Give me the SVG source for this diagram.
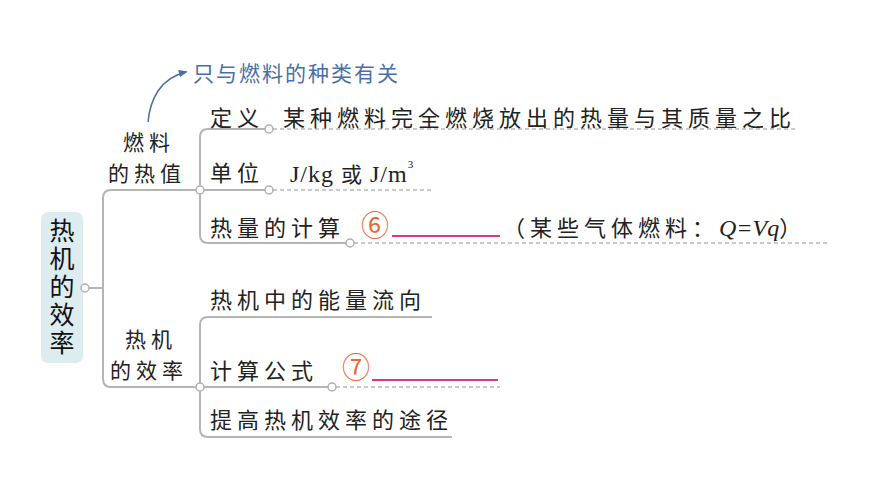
<svg xmlns="http://www.w3.org/2000/svg" width="870" height="489" viewBox="0 0 870 489">
<defs>
<style>
.ln{fill:none;stroke:#b5b5b5;stroke-width:2}
.ds{fill:none;stroke:#b8b8b8;stroke-width:1.5;stroke-dasharray:4 3}
.dot{fill:#fff;stroke:#b0b0b0;stroke-width:1.5}
.t{font-family:"Noto Sans CJK SC",sans-serif;font-size:22px;fill:#222;letter-spacing:5px}
.b{font-family:"Noto Sans CJK SC",sans-serif;font-size:21px;fill:#222;letter-spacing:5px}
.r{font-family:"Noto Sans CJK SC",sans-serif;font-size:25px;fill:#111;writing-mode:vertical-rl;letter-spacing:3px}
.s{font-family:"Liberation Serif","Noto Sans CJK SC",serif;font-size:24px;fill:#222;letter-spacing:1px}
.num{font-family:"Noto Sans CJK SC",sans-serif;font-size:28px;fill:#e8683a}
.pk{stroke:#d63a7a;stroke-width:2}
.an{font-family:"Noto Sans CJK SC",sans-serif;font-size:21px;fill:#4a6fa8;letter-spacing:2px}
</style>
<marker id="ah" viewBox="0 0 10 10" refX="8" refY="5" markerWidth="6" markerHeight="6" orient="auto"><path d="M0,1 L10,5 L0,9 z" fill="#4a6fa8"/></marker>
</defs>
<g id="connectors">
<path class="ln" d="M89,288 H103"/>
<path class="ln" d="M200,190 H111 Q103,190 103,198 V379 Q103,387 111,387 H200"/>
<path class="ln" d="M267,129 H208 Q200,129 200,137 V235 Q200,243 208,243 H346"/>
<path class="ln" d="M200,190 H265"/>
<path class="ln" d="M432,317 H208 Q200,317 200,325 V429 Q200,437 208,437 H452"/>
<path class="ln" d="M200,387 H328"/>
<path class="ds" d="M273,129 H798"/>
<path class="ds" d="M273,190 H432"/>
<path class="ds" d="M354,243 H828"/>
<path class="ds" d="M336,387 H500"/>
<path d="M148,122 C150,100 160,78 186,72" fill="none" stroke="#4a6fa8" stroke-width="1.5" marker-end="url(#ah)"/>
</g>
<g id="root">
<rect x="41" y="212" width="42" height="151" rx="7" fill="#dcecef"/>
<text class="r" x="62" y="218">热机的效率</text>
<circle class="dot" cx="85" cy="288" r="4"/>
</g>
<g id="branch-fuel">
<text class="b" x="123" y="150">燃料</text>
<text class="b" x="108" y="181">的热值</text>
<circle class="dot" cx="200" cy="190" r="4"/>
</g>
<g id="note">
<text class="an" x="193" y="81">只与燃料的种类有关</text>
</g>
<g id="def">
<text class="t" x="210" y="126">定义</text>
<text class="t" x="283" y="126">某种燃料完全燃烧放出的热量与其质量之比</text>
<circle class="dot" cx="269" cy="129" r="4"/>
</g>
<g id="unit">
<text class="t" x="210" y="181">单位</text>
<text class="s" x="290" y="182">J/kg <tspan font-family="Noto Sans CJK SC" font-size="21">或</tspan> J/m<tspan font-size="11" dy="-14">3</tspan></text>
<circle class="dot" cx="269" cy="190" r="4"/>
</g>
<g id="calc">
<text class="t" x="210" y="236">热量的计算</text>
<text class="num" x="361" y="236">⑥</text>
<line class="pk" x1="392" y1="236" x2="500" y2="236"/>
<text class="t" x="503" y="236">（某些气体燃料：<tspan font-family="Liberation Serif" font-style="italic" font-size="24" letter-spacing="0">Q=Vq</tspan>）</text>
<circle class="dot" cx="350" cy="243" r="4"/>
</g>
<g id="branch-engine">
<text class="b" x="125" y="347">热机</text>
<text class="b" x="110" y="378">的效率</text>
<circle class="dot" cx="200" cy="387" r="4"/>
</g>
<g id="flow">
<text class="t" x="210" y="308">热机中的能量流向</text>
</g>
<g id="formula">
<text class="t" x="210" y="379">计算公式</text>
<text class="num" x="342" y="378">⑦</text>
<line class="pk" x1="372" y1="380" x2="498" y2="380"/>
<circle class="dot" cx="332" cy="387" r="4"/>
</g>
<g id="improve">
<text class="t" x="210" y="428">提高热机效率的途径</text>
</g>
</svg>
